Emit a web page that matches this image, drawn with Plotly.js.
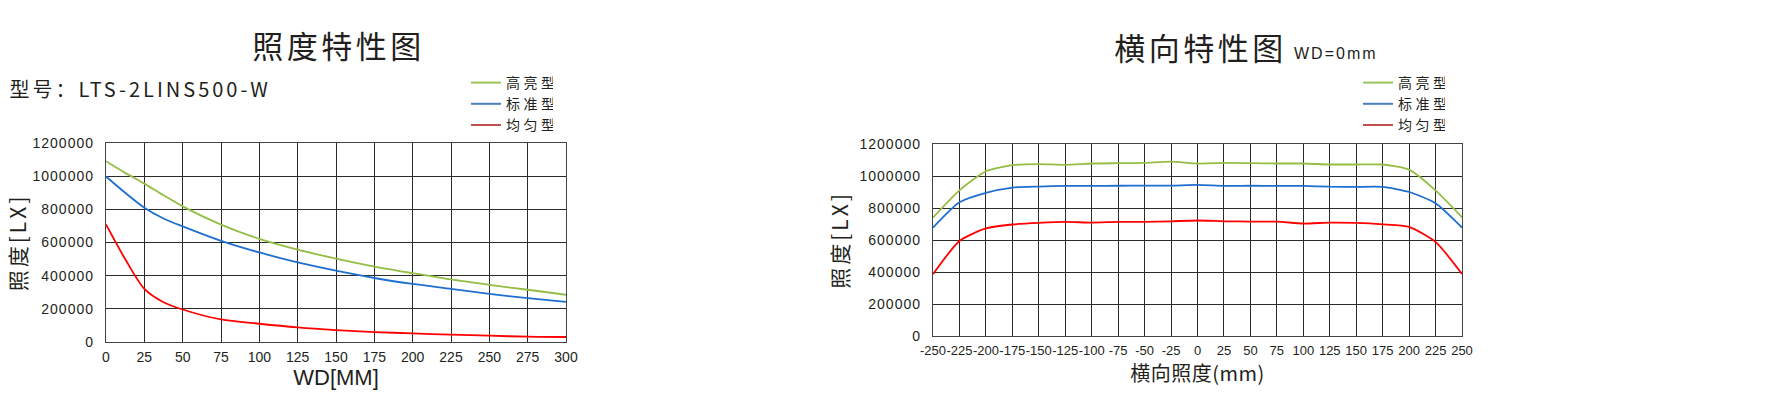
<!DOCTYPE html>
<html><head><meta charset="utf-8">
<script src="https://cdn.plot.ly/plotly-3.0.1.min.js"></script>
<style>
html,body{margin:0;padding:0;background:#fff}
#chart{width:1792px;height:413px}
#chart .legendtext, #chart g.legend text, #chart g.legend2 text{letter-spacing:3.5px}
#chart g.ytick text, #chart g.y2tick text{letter-spacing:1px}
#chart .g-ytitle text, #chart .g-y2title text{letter-spacing:3px}
#chart g.annotation[data-index="0"] text, #chart g.annotation[data-index="2"] text{letter-spacing:3.5px}
#chart g.annotation[data-index="1"] text{letter-spacing:3px}
#chart g.annotation[data-index="3"] text{letter-spacing:2px}
#chart .g-x2title text{letter-spacing:0.5px}
</style>
</head><body><div id="chart"></div>
<script>
// Left chart: illuminance vs working distance
const wd = [0, 12.5, 25, 37.5, 50, 75, 100, 125, 150, 175, 200, 225, 250, 275, 300];
const wdHigh = [1090000, 1020000, 955000, 885000, 818000, 708000, 622000, 557000, 503000, 455000, 415000, 377000, 345000, 315000, 285000];
const wdStd  = [998000, 900000, 810000, 745000, 697000, 610000, 540000, 480000, 430000, 386000, 350000, 320000, 290000, 265000, 242000];
const wdUni  = [709000, 500000, 320000, 240000, 196000, 136000, 110000, 88000, 72000, 60000, 52000, 44000, 38000, 32000, 30000];

// Right chart: lateral distribution at WD=0mm
const lat = [-250, -225, -200, -175, -150, -125, -100, -75, -50, -25, 0, 25, 50, 75, 100, 125, 150, 175, 200, 225, 250];
const latHigh = [740000, 910000, 1030000, 1068000, 1074000, 1070000, 1078000, 1080000, 1082000, 1090000, 1078000, 1082000, 1080000, 1078000, 1078000, 1072000, 1072000, 1072000, 1040000, 910000, 742000];
const latStd  = [678000, 836000, 895000, 928000, 934000, 938000, 938000, 939000, 940000, 940000, 944000, 938000, 939000, 938000, 938000, 933000, 932000, 932000, 900000, 830000, 678000];
const latUni  = [386000, 594000, 672000, 697000, 707000, 713000, 709000, 713000, 713000, 717000, 722000, 717000, 715000, 715000, 703000, 709000, 707000, 698000, 682000, 588000, 388000];

const names = ['高亮型', '标准型', '均匀型'];
const lineColors = ['#95bd45', '#1f6fd0', '#ff0000'];
const legendColors = ['#9bc35a', '#4a7fc1', '#c0504d'];
const yTicks = [0, 200000, 400000, 600000, 800000, 1000000, 1200000];
const wdTicks = [0, 25, 50, 75, 100, 125, 150, 175, 200, 225, 250, 275, 300];
const latTicks = [-250, -225, -200, -175, -150, -125, -100, -75, -50, -25, 0, 25, 50, 75, 100, 125, 150, 175, 200, 225, 250];

const W = 1792, H = 413;
const px = v => v / W, py = v => 1 - v / H;

const leftSeries = [wdHigh, wdStd, wdUni];
const rightSeries = [latHigh, latStd, latUni];
const traces = [];
leftSeries.forEach((ys, i) => traces.push({
  x: wd, y: ys, type: 'scatter', mode: 'lines', name: names[i], showlegend: false,
  line: {color: lineColors[i], width: 1.8, shape: 'spline', smoothing: 0.8},
  xaxis: 'x', yaxis: 'y', hoverinfo: 'skip'
}));
rightSeries.forEach((ys, i) => traces.push({
  x: lat, y: ys, type: 'scatter', mode: 'lines', name: names[i], showlegend: false,
  line: {color: lineColors[i], width: 1.8, shape: 'spline', smoothing: 0.6},
  xaxis: 'x2', yaxis: 'y2', hoverinfo: 'skip'
}));
// legend entries (legend swatches use muted colours in the reference)
['legend', 'legend2'].forEach((lg, k) => names.forEach((n, i) => traces.push({
  x: [null], y: [null], type: 'scatter', mode: 'lines', name: n, showlegend: true,
  line: {color: legendColors[i], width: 2},
  xaxis: k ? 'x2' : 'x', yaxis: k ? 'y2' : 'y', legend: lg, hoverinfo: 'skip'
})));

const txt = '#231f20';
const latin = 'Liberation Sans, Arial, sans-serif';
const cjk = 'Noto Sans CJK SC, sans-serif';
const axisCommon = {
  showline: true, mirror: true, linecolor: '#444', linewidth: 1.2,
  showgrid: true, gridcolor: '#2a2a2a', gridwidth: 1, zeroline: false,
  ticks: '', fixedrange: true
};
const legendCommon = {
  font: {family: cjk, size: 14, color: txt},
  bgcolor: 'rgba(0,0,0,0)', borderwidth: 0,
  xanchor: 'left', yanchor: 'top', tracegroupgap: 0,
  itemclick: false, itemdoubleclick: false
};

const layout = {
  width: W, height: H, margin: {l: 0, r: 0, t: 0, b: 0},
  paper_bgcolor: '#fff', plot_bgcolor: '#fff', showlegend: true,
  xaxis: Object.assign({}, axisCommon, {
    domain: [px(106), px(566)], range: [0, 300], tickvals: wdTicks, ticktext: wdTicks.map(String),
    tickfont: {family: latin, size: 14, color: txt}, anchor: 'y', tickangle: 0, ticklabelstandoff: 2,
    title: {text: 'WD[MM]', font: {family: latin, size: 22, color: txt}, standoff: 5}
  }),
  yaxis: Object.assign({}, axisCommon, {
    domain: [py(342), py(143)], range: [0, 1200000], tickvals: yTicks, ticktext: yTicks.map(String),
    tickfont: {family: latin, size: 14, color: txt}, anchor: 'x', ticklabelstandoff: 8,
    title: {text: '照度[LX]', font: {family: cjk, size: 21, color: txt}, standoff: 7}
  }),
  xaxis2: Object.assign({}, axisCommon, {
    domain: [px(933), px(1462)], range: [-250, 250], tickvals: latTicks, ticktext: latTicks.map(String),
    tickfont: {family: latin, size: 13, color: txt}, anchor: 'y2', tickangle: 0, ticklabelstandoff: 2,
    title: {text: '横向照度(mm)', font: {family: cjk, size: 20, color: txt}, standoff: 4}
  }),
  yaxis2: Object.assign({}, axisCommon, {
    domain: [py(336), py(144)], range: [0, 1200000], tickvals: yTicks, ticktext: yTicks.map(String),
    tickfont: {family: latin, size: 14, color: txt}, anchor: 'x2', ticklabelstandoff: 8,
    title: {text: '照度[LX]', font: {family: cjk, size: 21, color: txt}, standoff: 12}
  }),
  legend: Object.assign({}, legendCommon, {x: px(466), y: py(67)}),
  legend2: Object.assign({}, legendCommon, {x: px(1358), y: py(67)}),
  annotations: [
    {text: '照度特性图', xref: 'paper', yref: 'paper', x: px(338), y: py(44), xanchor: 'center', yanchor: 'middle',
     showarrow: false, font: {family: cjk, size: 31, color: txt}},
    {text: '型号：LTS-2LINS500-W', xref: 'paper', yref: 'paper', x: px(140), y: py(88), xanchor: 'center', yanchor: 'middle',
     showarrow: false, font: {family: cjk, size: 20, color: txt}},
    {text: '横向特性图', xref: 'paper', yref: 'paper', x: px(1200), y: py(47), xanchor: 'center', yanchor: 'middle',
     showarrow: false, font: {family: cjk, size: 31, color: txt}},
    {text: 'WD=0mm', xref: 'paper', yref: 'paper', x: px(1336), y: py(53), xanchor: 'center', yanchor: 'middle',
     showarrow: false, font: {family: latin, size: 16, color: txt}}
  ]
};

Plotly.newPlot('chart', traces, layout, {staticPlot: true, displayModeBar: false}).then(gd => {
  gd.querySelectorAll('text.legendtext').forEach(t => { t.style.letterSpacing = '3.5px'; });
});
</script></body></html>
